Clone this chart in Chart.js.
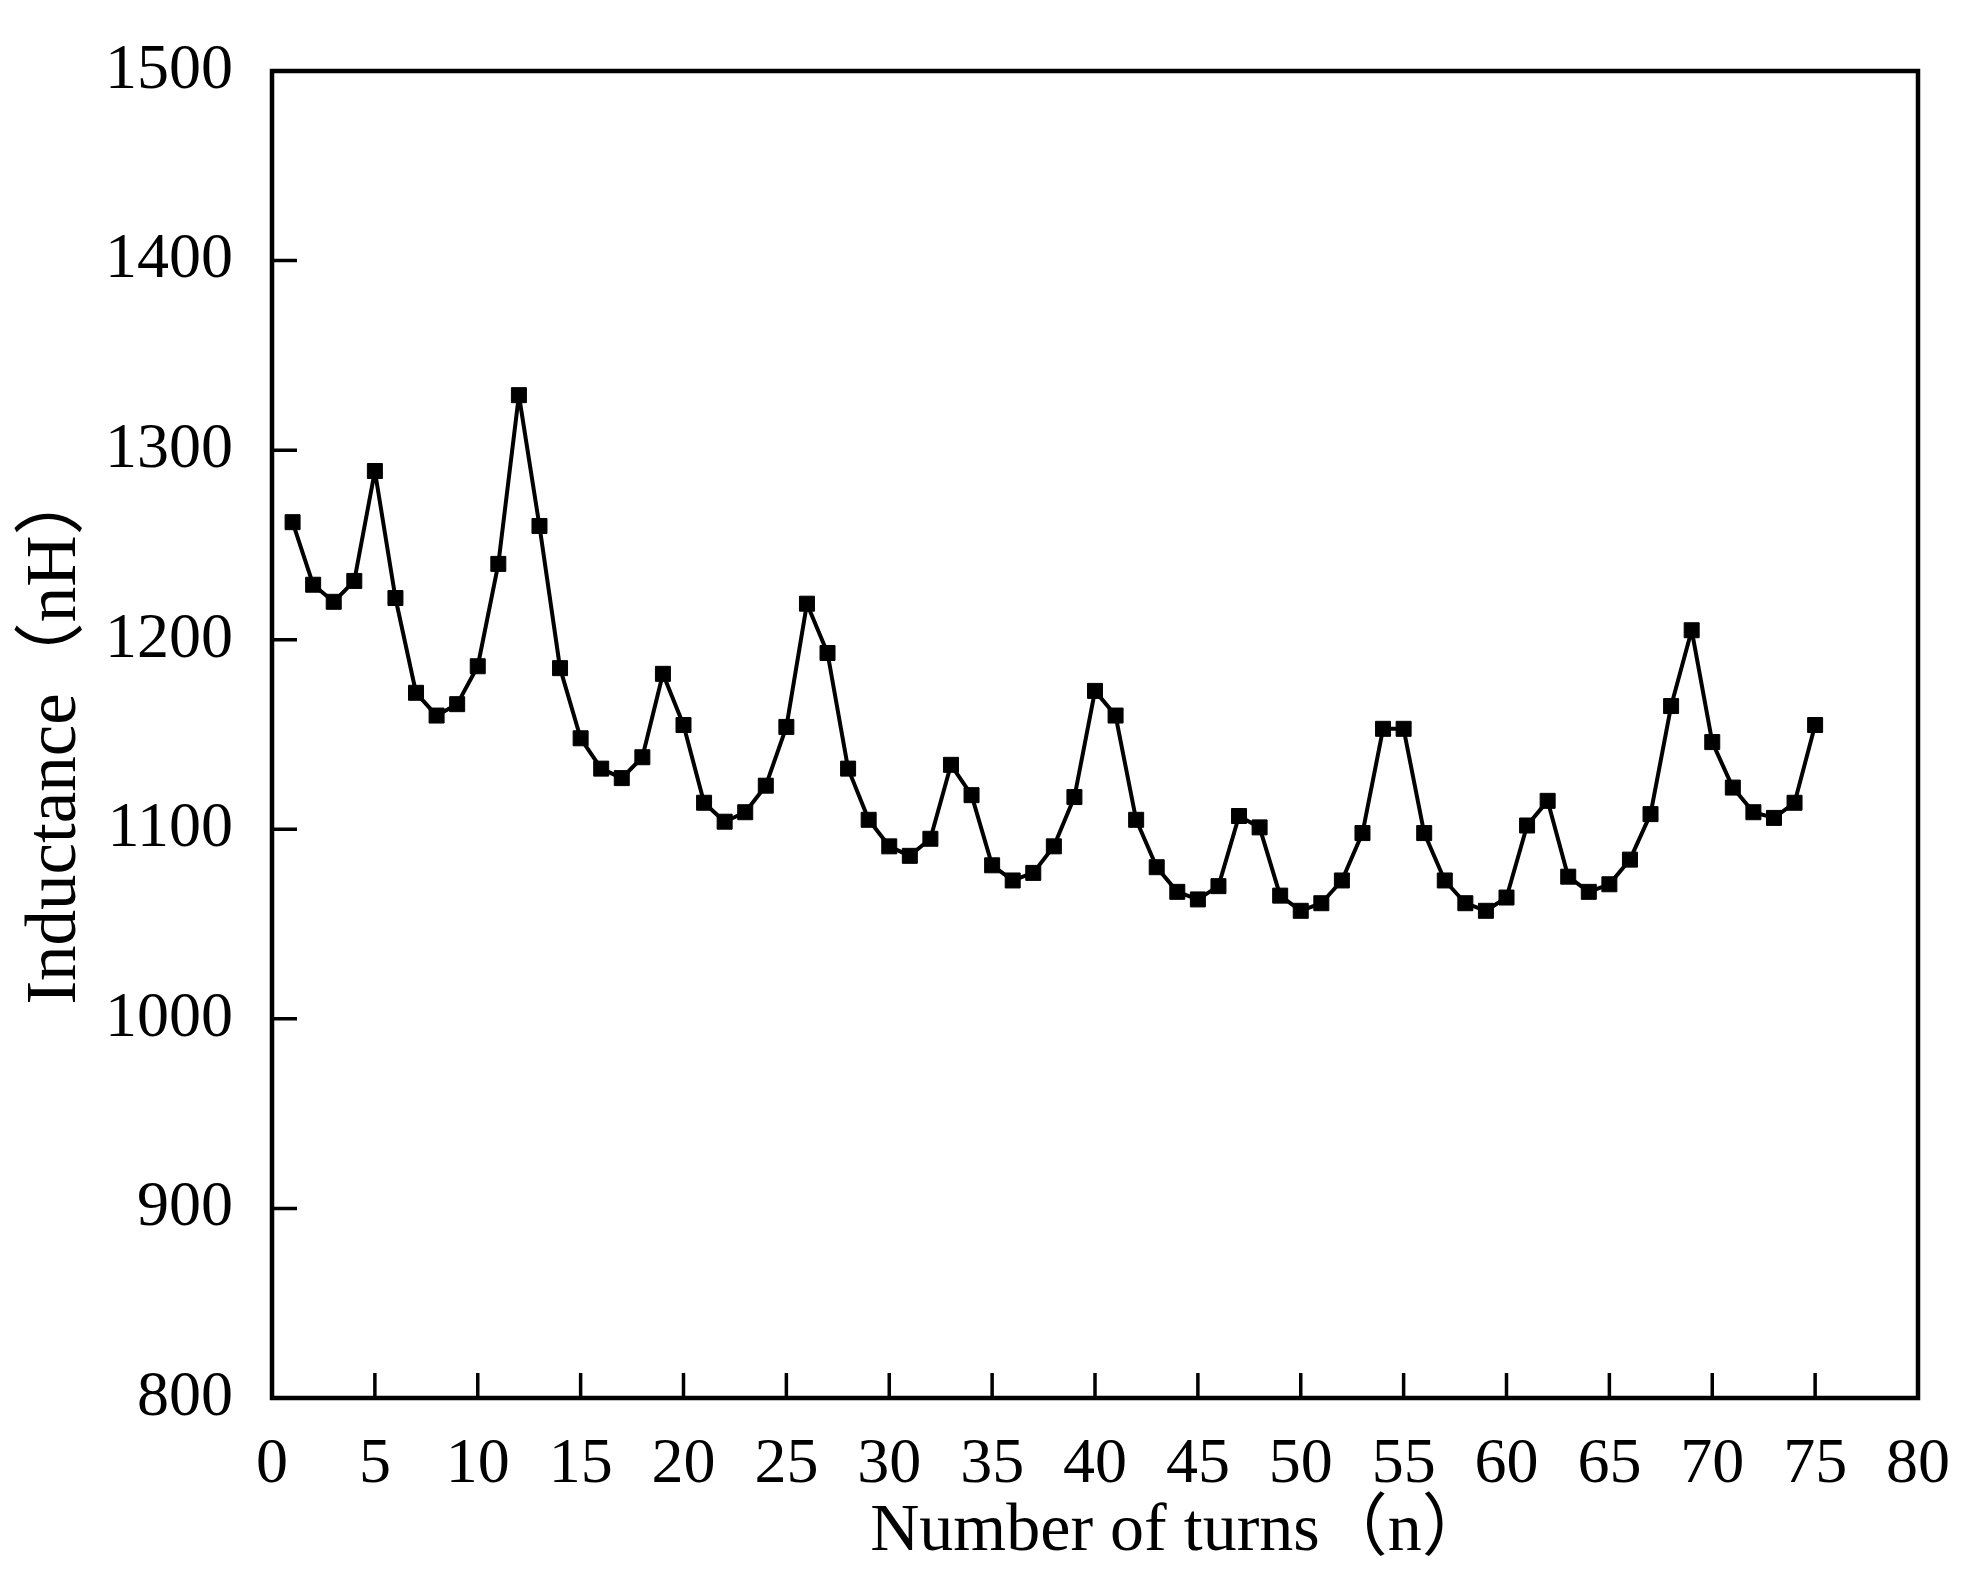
<!DOCTYPE html>
<html>
<head>
<meta charset="utf-8">
<script src="https://cdn.jsdelivr.net/npm/chart.js@4.4.1/dist/chart.umd.min.js"></script>
<style>
  html, body { margin: 0; padding: 0; background: #fff; overflow: hidden; }
  #wrap { width: 1970px; height: 1584px; }
</style>
</head>
<body>
<div id="wrap"><canvas id="myLineChart"></canvas></div>
<script>
// data
const turns = [];
for (let i = 1; i <= 75; i++) turns.push(i);

const inductance = [
    1262, 1229, 1220, 1231, 1289, 1222, 1172, 1160, 1166, 1186,
    1240, 1329, 1260, 1185, 1148, 1132, 1127, 1138, 1182, 1155,
    1114, 1104, 1109, 1123, 1154, 1219, 1193, 1132, 1105, 1091,
    1086, 1095, 1134, 1118, 1081, 1073, 1077, 1091, 1117, 1173,
    1160, 1105, 1080, 1067, 1063, 1070, 1107, 1101, 1065, 1057,
    1061, 1073, 1098, 1153, 1153, 1098, 1073, 1061, 1057, 1064,
    1102, 1115, 1075, 1067, 1071, 1084, 1108, 1165, 1205, 1146,
    1122, 1109, 1106, 1114, 1155
];

const xTicks = [0, 5, 10, 15, 20, 25, 30, 35, 40, 45, 50, 55, 60, 65, 70, 75, 80];
const yTicks = [800, 900, 1000, 1100, 1200, 1300, 1400, 1500];

const serif = "'Liberation Serif', 'Times New Roman', 'Noto Sans CJK SC', serif";

// frame around the plot and inward tick marks
const frameTicks = {
    id: 'frameTicks',
    afterDatasetsDraw(chart) {
        const { ctx, chartArea: a, scales } = chart;
        ctx.save();
        ctx.strokeStyle = '#000';
        ctx.lineWidth = 3.5;
        ctx.beginPath();
        xTicks.forEach(v => {
            const px = scales.x.getPixelForValue(v);
            ctx.moveTo(px, a.bottom);
            ctx.lineTo(px, a.bottom - 25);
        });
        yTicks.forEach(v => {
            const py = scales.y.getPixelForValue(v);
            ctx.moveTo(a.left, py);
            ctx.lineTo(a.left + 25, py);
        });
        ctx.stroke();
        ctx.lineWidth = 4.5;
        ctx.strokeRect(a.left, a.top, a.right - a.left, a.bottom - a.top);
        ctx.restore();
    }
};

const lineChartData = {
    datasets: [{
        label: 'Inductance',
        data: turns.map((t, i) => ({ x: t, y: inductance[i] })),
        borderColor: '#000',
        backgroundColor: '#000',
        borderWidth: 4,
        borderJoinStyle: 'round',
        pointStyle: 'rect',
        pointRadius: 10.6,
        pointHoverRadius: 10.6,
        pointBorderWidth: 1,
        tension: 0,
        fill: false
    }]
};

const lineChartConfig = {
    type: 'line',
    data: lineChartData,
    options: {
        responsive: true,
        maintainAspectRatio: false,
        animation: false,
        layout: { autoPadding: false, padding: { left: 0, right: 52, top: 71, bottom: 0 } },
        plugins: {
            legend: { display: false },
            tooltip: { enabled: false }
        },
        scales: {
            x: {
                type: 'linear',
                min: 0,
                max: 80,
                afterBuildTicks: scale => { scale.ticks = xTicks.map(v => ({ value: v })); },
                afterFit: scale => {
                    scale.height = 186;
                    // keep the label overhang from shrinking the plot
                    scale.paddingLeft = 0;
                    scale.paddingRight = 0;
                },
                grid: { display: false },
                border: { display: false },
                ticks: {
                    color: '#000',
                    padding: 27,
                    maxRotation: 0,
                    autoSkip: false,
                    callback: value => String(value),
                    font: { family: serif, size: 64, lineHeight: 1 }
                },
                title: {
                    display: true,
                    // leading spaces nudge the centred title to the right, as in the original
                    text: '\u00a0\u00a0\u00a0\u00a0\u00a0\u00a0\u00a0\u00a0\u00a0\u00a0Number of turns（n）',
                    color: '#000',
                    padding: { top: 0, bottom: 18 },
                    font: { family: serif, size: 68, lineHeight: 1 }
                }
            },
            y: {
                type: 'linear',
                min: 800,
                max: 1500,
                afterBuildTicks: scale => { scale.ticks = yTicks.map(v => ({ value: v })); },
                afterFit: scale => { scale.width = 272; },
                grid: { display: false },
                border: { display: false },
                ticks: {
                    color: '#000',
                    padding: 31,
                    callback: value => String(value),
                    font: { family: serif, size: 64, lineHeight: 1 }
                },
                title: {
                    display: true,
                    text: 'Inductance（nH）',
                    color: '#000',
                    padding: { top: 21, bottom: 0 },
                    font: { family: serif, size: 71, lineHeight: 1 }
                }
            }
        }
    },
    plugins: [frameTicks]
};

new Chart(
    document.getElementById('myLineChart'),
    lineChartConfig
);
</script>
</body>
</html>
